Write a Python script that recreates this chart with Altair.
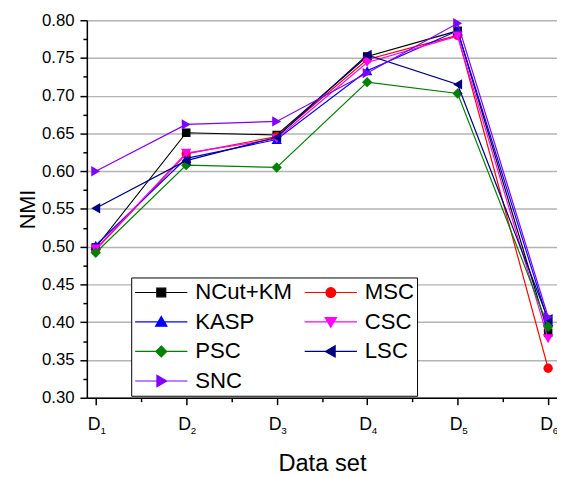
import altair as alt
import pandas as pd

categories = ["D1", "D2", "D3", "D4", "D5", "D6"]
subscripts = ["1", "2", "3", "4", "5", "6"]
methods = ["NCut+KM", "MSC", "KASP", "CSC", "PSC", "LSC", "SNC"]
colors = ["#000000", "#ff0000", "#0000ff", "#ff00ff", "#008000", "#000080", "#8000ff"]
shapes = ["square", "circle", "triangle-up", "triangle-down", "diamond", "triangle-left", "triangle-right"]
sizes = [75, 90, 110, 110, 110, 110, 110]

ncut = [0.499, 0.651, 0.648, 0.752, 0.786, 0.386]
msc = [0.496, 0.623, 0.646, 0.748, 0.780, 0.339]
kasp = [0.502, 0.617, 0.642, 0.733, 0.786, 0.401]
csc = [0.497, 0.624, 0.643, 0.744, 0.779, 0.378]
psc = [0.492, 0.608, 0.605, 0.718, 0.703, 0.394]
lsc = [0.551, 0.614, 0.645, 0.754, 0.715, 0.404]
snc = [0.600, 0.662, 0.666, 0.730, 0.796, 0.407]
series = [ncut, msc, kasp, csc, psc, lsc, snc]

y_major = [round(0.30 + 0.05 * i, 2) for i in range(11)]
y_minor = [round(0.325 + 0.05 * i, 3) for i in range(10)]
x_major = [1, 2, 3, 4, 5, 6]
x_minor = [1.5, 2.5, 3.5, 4.5, 5.5]

# legend symbols (unit = 11px): a line with the marker in its middle
legend_paths = [
    "M-1,0H3.82M1.0,-0.4H1.82V0.4H1.0Z",
    "M-1,0H3.82M1.86,0A0.45,0.45 0 1,1 0.96,0A0.45,0.45 0 1,1 1.86,0Z",
    "M-1,0H3.82M1.41,-0.5L1.93,0.4L0.89,0.4Z",
    "M-1,0H3.82M1.41,0.5L1.93,-0.4L0.89,-0.4Z",
    "M-1,0H3.82M1.41,-0.5L1.91,0L1.41,0.5L0.91,0Z",
    "M-1,0H3.82M0.91,0L1.81,-0.52L1.81,0.52Z",
    "M-1,0H3.82M1.91,0L1.01,-0.52L1.01,0.52Z",
]

rows = []
for m, vals in zip(methods, series):
    for i, (c, v) in enumerate(zip(categories, vals)):
        rows.append({"method": m, "idx": i + 1, "cat": c, "sub": subscripts[i], "NMI": v})
df = pd.DataFrame(rows)

FONT = "Liberation Sans"
xscale = alt.Scale(domain=[0.902, 6.098], nice=False, zero=False)
yscale = alt.Scale(domain=[0.30, 0.80], nice=False, zero=False)

base = alt.Chart(df)

# invisible layer carrying the main axes and grid
axes_layer = base.mark_point(opacity=0).encode(
    x=alt.X("idx:Q", scale=xscale, axis=alt.Axis(
        orient="bottom", values=x_major, labelExpr="'D'", labelFontSize=18, labelFont=FONT,
        labelColor="black", labelOffset=-2, labelPadding=11, tickSize=7, tickWidth=1.5, tickColor="black",
        domainColor="black", domainWidth=1.5, grid=False, title="Data set", titleFont=FONT,
        titleFontSize=24, titleFontWeight="normal", titleColor="black", titlePadding=19)),
    y=alt.Y("NMI:Q", scale=yscale, axis=alt.Axis(
        orient="left", values=y_major, format=".2f", labelFontSize=17, labelFont=FONT,
        labelColor="black", labelPadding=6, tickSize=7, tickWidth=1.5, tickColor="black",
        domainColor="black", domainWidth=1.5, grid=True, gridColor="#b4b4b4", gridWidth=1.5,
        title="NMI", titleFont=FONT, titleFontSize=22, titleFontWeight="normal",
        titleColor="black", titlePadding=2)),
)

minor_layer = base.mark_point(opacity=0).encode(
    x=alt.X("idx:Q", scale=xscale, axis=alt.Axis(
        orient="bottom", values=x_minor, labels=False, tickSize=4, tickWidth=1.5,
        tickColor="black", domain=False, grid=False, title=None)),
    y=alt.Y("NMI:Q", scale=yscale, axis=alt.Axis(
        orient="left", values=y_minor, labels=False, tickSize=4, tickWidth=1.5,
        tickColor="black", domain=False, grid=False, title=None)),
)

sub_layer = base.mark_point(opacity=0).encode(
    x=alt.X("idx:Q", scale=xscale, axis=alt.Axis(
        orient="bottom", values=x_major, labelExpr="datum.value", labelFontSize=10,
        labelFont=FONT, labelColor="black", labelOffset=7, labelPadding=28, ticks=False,
        tickSize=0, domain=False, grid=False, title=None)),
    y=alt.Y("NMI:Q", scale=yscale, axis=None),
)

series_layers = []
for m, col, sh, sz in zip(methods, colors, shapes, sizes):
    sel = base.transform_filter(alt.datum.method == m)
    enc = dict(
        x=alt.X("idx:Q", scale=xscale, axis=None),
        y=alt.Y("NMI:Q", scale=yscale, axis=None),
    )
    series_layers.append(sel.mark_line(strokeWidth=1.2, color=col).encode(**enc))
    series_layers.append(
        sel.mark_point(filled=True, shape=sh, size=sz, color=col, opacity=1).encode(**enc)
    )

leg = alt.Legend(
    title=None, orient="none", legendX=45, legendY=261, columns=2, direction="horizontal",
    labelFontSize=22.5, labelFont=FONT, labelColor="black", symbolSize=484,
    symbolStrokeWidth=1.2, symbolOpacity=1, labelOffset=38, rowPadding=6, columnPadding=9,
    strokeColor="black", padding=3, fillColor="white",
)

# legend-only layer: shifted out of the y domain and clipped, so only its legend shows
legend_layer = base.transform_calculate(off="datum.NMI + 1").mark_point(
    filled=True, clip=True
).encode(
    x=alt.X("idx:Q", scale=xscale, axis=None),
    y=alt.Y("off:Q", scale=yscale, axis=None),
    fill=alt.Fill("method:N", scale=alt.Scale(domain=methods, range=colors), legend=leg),
    stroke=alt.Stroke("method:N", scale=alt.Scale(domain=methods, range=colors), legend=leg),
    shape=alt.Shape("method:N", scale=alt.Scale(domain=methods, range=legend_paths), legend=leg),
)

chart = alt.layer(axes_layer, minor_layer, sub_layer, *series_layers, legend_layer).resolve_axis(
    x="independent", y="independent"
).properties(
    width=477, height=383,
    autosize=alt.AutoSizeParams(type="none"),
    padding={"left": 80, "top": 9, "right": 0, "bottom": 77},
).configure_view(stroke=None).configure(background="white")

chart.save("out.html", embed_options={"renderer": "svg", "actions": False})
